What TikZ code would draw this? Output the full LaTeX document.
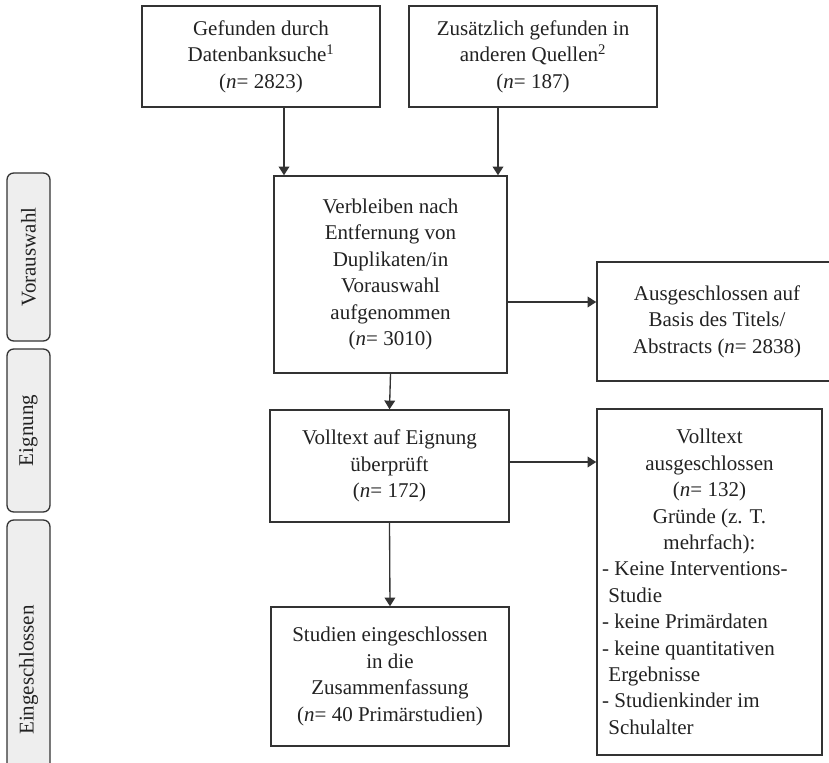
\documentclass[tikz,border=0pt]{standalone}
\usepackage{fontspec}
\setmainfont{Liberation Serif}
\usetikzlibrary{arrows.meta}
\definecolor{linec}{HTML}{333333}
\definecolor{textc}{HTML}{222222}
\definecolor{stagefill}{HTML}{EEEEEE}
\newcommand{\nn}{(\textit{n}= }
\tikzset{
  box/.style={draw=linec, line width=1.1pt, inner sep=0pt, align=center, text=textc,
    font={\fontsize{15.75pt}{19.8pt}\selectfont}},
  arr/.style={draw=linec, line width=1pt, -{Triangle[length=6.5pt,width=8pt]}},
  stage/.style={draw=linec, fill=stagefill, line width=1pt, rounded corners=5pt, rotate=90,
    inner sep=0pt, text=textc, font={\fontsize{15.75pt}{19.8pt}\selectfont}},
}
\begin{document}
\begin{tikzpicture}[x=0.75pt, y=-0.75pt]
\useasboundingbox (0,0) rectangle (829,763);

% stage labels
\node[stage, minimum width={168*0.75pt}, minimum height={43*0.75pt}] (s1) at (28.5,257) {Vorauswahl};
\node[stage, minimum width={163*0.75pt}, minimum height={43*0.75pt}] (s2) at (28.5,430.5) {Eignung};
\node[stage, minimum width={300*0.75pt}, minimum height={43*0.75pt}] (s3) at (28.5,670) {Eingeschlossen};

% boxes
\node[box, minimum width={238*0.75pt}, minimum height={101*0.75pt}] (b1) at (261,56.5)
  {Gefunden durch\\ Datenbanksuche\textsuperscript{1}\\ \nn 2823)};
\node[box, minimum width={248*0.75pt}, minimum height={101*0.75pt}] (b2) at (533,56.5)
  {Zusätzlich gefunden in\\ anderen Quellen\textsuperscript{2}\\ \nn 187)};
\node[box, minimum width={233*0.75pt}, minimum height={197*0.75pt}] (b3) at (390.5,274.5)
  {Verbleiben nach\\ Entfernung von\\ Duplikaten/in\\ Vorauswahl\\ aufgenommen\\ \nn 3010)};
\node[box, minimum width={240*0.75pt}, minimum height={119*0.75pt}] (b4) at (717,321.5)
  {Ausgeschlossen auf\\ Basis des Titels/\\ Abstracts \nn 2838)};
\node[box, minimum width={239*0.75pt}, minimum height={112*0.75pt}] (b5) at (389.5,466)
  {Volltext auf Eignung\\ überprüft\\ \nn 172)};
\node[box, minimum width={225*0.75pt}, minimum height={346*0.75pt}] (b6) at (709.5,582)
  {\parbox{161pt}{\fontsize{15.75pt}{19.8pt}\selectfont
   {\centering Volltext\\ ausgeschlossen\\ \nn 132)\\ Gründe (z. T.\\ mehrfach):\par}
   {\raggedright\hspace*{0pt}- Keine Interventions-\\
   \hspace*{0.3em}Studie\\
   - keine Primärdaten\\
   - keine quantitativen\\
   \hspace*{0.3em}Ergebnisse\\
   - Studienkinder im\\
   \hspace*{0.3em}Schulalter\par}}};
\node[box, minimum width={238*0.75pt}, minimum height={139*0.75pt}] (b7) at (390,676.5)
  {Studien eingeschlossen\\ in die\\ Zusammenfassung\\ \nn 40 Primärstudien)};

% helper positions
\coordinate (xa) at (284,0);
\coordinate (xb) at (498,0);
\coordinate (ya) at (0,302);
\coordinate (yb) at (0,462);

% connectors
\draw[arr] (b1.south -| xa) -- (b3.north -| xa);
\draw[arr] (b2.south -| xb) -- (b3.north -| xb);
\draw[arr] (b3.east |- ya) -- (b4.west |- ya);
\draw[arr] (b3.south) -- (b5.north);
\draw[arr] (b5.east |- yb) -- (b6.west |- yb);
\draw[arr] (b5.south) -- (b7.north);
\end{tikzpicture}
\end{document}
